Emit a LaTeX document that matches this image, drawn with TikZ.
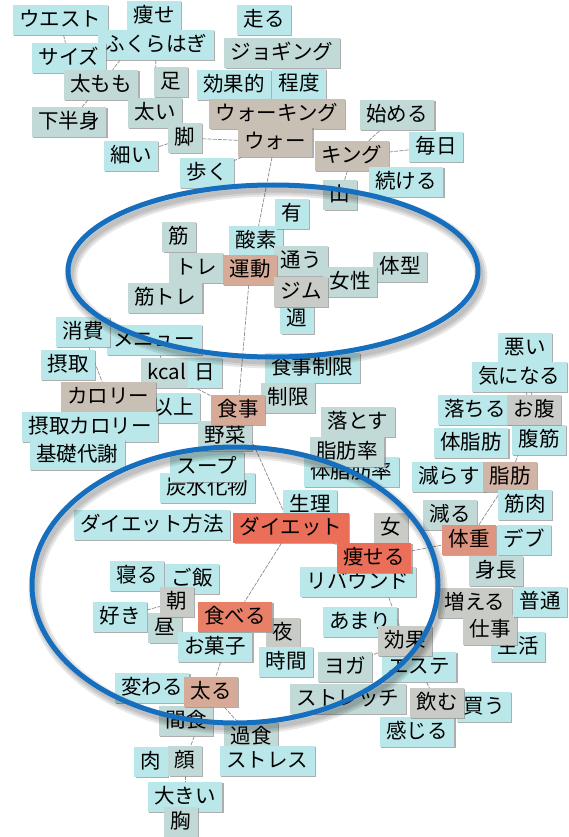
\documentclass[tikz,border=0pt]{standalone}
\usepackage{fontspec}
\setmainfont{Noto Sans CJK JP}
\usetikzlibrary{shadows}
\usetikzlibrary{calc}
\pgfdeclarelayer{fondo}
\pgfsetlayers{fondo,main}
\definecolor{celeste}{RGB}{186,231,233}
\definecolor{grisverde}{RGB}{193,218,215}
\definecolor{gris}{RGB}{201,204,198}
\definecolor{topo}{RGB}{201,192,181}
\definecolor{salmon}{RGB}{215,170,152}
\definecolor{salmonclaro}{RGB}{208,180,166}
\definecolor{naranja}{RGB}{222,148,126}
\definecolor{naranjafuerte}{RGB}{232,128,104}
\definecolor{rojo}{RGB}{234,110,88}
\definecolor{azul}{RGB}{21,110,190}

\begin{document}
\begin{tikzpicture}[x=1pt,y=-1pt,
  pal/.style={fill=celeste, inner xsep=6.5pt, inner ysep=2pt, minimum height=30pt,
    text height=16pt, text depth=3.5pt, font=\fontsize{20.5}{20.5}\selectfont,
    drop shadow={shadow xshift=1.3pt, shadow yshift=-1.3pt, fill=black!45, opacity=.7}},
  gv/.style={pal, fill=grisverde},
  gr/.style={pal, fill=gris},
  tp/.style={pal, fill=topo},
  sa/.style={pal, fill=salmon},
  enlace/.style={black!45, line width=.7pt, dash pattern=on 4pt off 1.2pt},
  circulo/.style={azul, line width=5pt},
  sombra/.style={black, line width=#1, opacity=.09}]
\useasboundingbox (0,0) rectangle (569,837);
% piernas y caminar
\node[pal] (wst) at (60,20) {ウエスト};
\node[pal] (yase) at (154,16) {痩せ};
\node[pal] (fuku) at (156,45) {ふくらはぎ};
\node[pal] (size) at (69,58) {サイズ};
\node[gv] (ashi) at (171,82) {足};
\node[gv] (mom) at (101,85) {太もも};
\node[gv] (futoi) at (155,113) {太い};
\node[gv] (kahan) at (69,122) {下半身};
\node[gv] (kyaku) at (185,138) {脚};
\node[pal] (hosoi) at (131,156) {細い};
\node[pal] (aruku) at (207,173) {歩く};
\node[pal] (hashiru) at (264,20) {走る};
\node[gv] (jog) at (282,53) {ジョギング};
\node[pal] (kokateki) at (234,85) {効果的};
\node[pal] (teido) at (299,84) {程度};
\node[tp] (walk) at (277,114) {ウォーキング};
\node[tp] (wo) at (275,142) {ウォー};
\node[tp] (king) at (352,156) {キング};
\node[gv] (hajime) at (397,115) {始める};
\node[pal] (mai) at (436,147) {毎日};
\node[pal] (tsuzuke) at (406,182) {続ける};
\node[gv] (yama) at (340,195) {山};
% ejercicio
\node[gv] (kin) at (179,237) {筋};
\node[pal] (sanso) at (256,241) {酸素};
\node[pal] (yu) at (292,214) {有};
\node[gv] (tore) at (196,268) {トレ};
\node[gv] (kayou) at (301,261) {通う};
\node[sa] (undo) at (250,270) {運動};
\node[gv] (taikei) at (400,267) {体型};
\node[gv] (josei) at (350,282) {女性};
\node[pal] (shu) at (297,319) {週};
\node[gr] (jim) at (301,292) {ジム};
\node[gv] (kintore) at (165,298) {筋トレ};
% comida
\node[pal] (menu) at (154,340) {メニュー};
\node[pal] (shohi) at (83,332) {消費};
\node[pal] (sesshu) at (68,365) {摂取};
\node[gv] (kcal) at (167,373) {kcal};
\node[pal] (hi) at (205,373) {日};
\node[pal] (ijo) at (173,408) {以上};
\node[tp] (cal) at (108,397) {カロリー};
\node[pal] (sescal) at (90,427) {摂取カロリー};
\node[pal] (shokuseigen) at (312,368) {食事制限};
\node[gv] (seigen) at (288,398) {制限};
\node[gv] (yasai) at (225,436) {野菜};
\node[sa] (shokuji) at (238,410) {食事};
\node[pal] (kiso) at (77,455) {基礎代謝};
\node[pal] (tansui) at (207,488) {炭水化物};
\node[pal] (soup) at (207,467) {スープ};
\node[gv] (otosu) at (358,422) {落とす};
\node[pal] (taishiboritsu) at (351,472) {体脂肪率};
\node[gv] (shiboritsu) at (347,452) {脂肪率};
\node[pal] (seiri) at (310,505) {生理};
% grasa y peso
\node[pal] (warui) at (525,348) {悪い};
\node[pal] (kini) at (519,377) {気になる};
\node[pal] (ochiru) at (475,410) {落ちる};
\node[pal] (fukkin) at (539,440) {腹筋};
\node[gr] (onaka) at (534,410) {お腹};
\node[pal] (taishibo) at (471,443) {体脂肪};
\node[pal] (herasu) at (449,477) {減らす};
\node[sa, fill=salmonclaro] (shibo) at (510,477) {脂肪};
\node[pal] (kinniku) at (525,505) {筋肉};
\node[gv] (heru) at (450,515) {減る};
\node[pal] (hoho) at (152,525) {ダイエット方法};
\node[pal, fill=rojo] (diet) at (291,528) {ダイエット};
\node[gr] (onna) at (391,528) {女};
\node[pal, fill=naranja] (taiju) at (469,540) {体重};
\node[pal] (debu) at (524,540) {デブ};
\node[pal] (rebound) at (358,582) {リバウンド};
\node[pal, fill=rojo] (yaseru) at (374,558) {痩せる};
\node[gv] (shincho) at (496,571) {身長};
\node[pal] (seikatsu) at (518,647) {生活};
\node[gr] (fueru) at (475,603) {増える};
\node[gr] (shigoto) at (490,630) {仕事};
\node[pal] (futsu) at (540,602) {普通};
\node[pal] (amari) at (360,622) {あまり};
\node[pal] (este) at (419,667) {エステ};
\node[gr] (koka) at (405,641) {効果};
\node[gr] (yoru) at (283,633) {夜};
\node[pal] (jikan) at (286,662) {時間};
\node[gv] (yoga) at (345,667) {ヨガ};
\node[gv] (stretch) at (348,699) {ストレッチ};
\node[pal] (kau) at (484,707) {買う};
\node[pal] (kanjiru) at (417,732) {感じる};
\node[gr] (nomu) at (437,703) {飲む};
% comer
\node[pal] (neru) at (137,576) {寝る};
\node[pal] (gohan) at (192,579) {ご飯};
\node[gv] (hiru) at (165,628) {昼};
\node[gr] (asa) at (177,602) {朝};
\node[pal] (suki) at (120,617) {好き};
\node[pal] (okashi) at (215,647) {お菓子};
\node[pal, fill=naranjafuerte] (taberu) at (235,617) {食べる};
\node[pal] (kawaru) at (152,688) {変わる};
\node[gv] (kanshoku) at (186,721) {間食};
\node[sa] (futoru) at (211,692) {太る};
\node[gv] (kashoku) at (251,737) {過食};
\node[pal] (niku) at (151,762) {肉};
\node[gv] (kao) at (185,761) {顔};
\node[pal] (stress) at (267,761) {ストレス};
\node[pal] (ookii) at (185,797) {大きい};
\node[gv] (mune) at (181,822) {胸};

\begin{pgfonlayer}{fondo}
\draw[enlace] (wo) -- (kyaku);
\draw[enlace] (wo) -- (aruku);
\draw[enlace] (wo) -- (undo);
\draw[enlace] (undo) -- (shokuji);
\draw[enlace] (shokuji) -- (diet);
\draw[enlace] (diet) -- (taberu);
\draw[enlace] (diet) -- (yaseru);
\draw[enlace] (yaseru) -- (taiju);
\draw[enlace] (taiju) -- (shibo);
\draw[enlace] (shibo) -- (onaka);
\draw[enlace] (onaka) -- (warui);
\draw[enlace] (onaka) -- (kini);
\draw[enlace] (king) -- (mai);
\draw[enlace] (king) -- (hajime);
\draw[enlace] (king) -- (yama);
\draw[enlace] (kyaku) -- (hosoi);
\draw[enlace] (yase) -- (mom);
\draw[enlace] (fuku) -- (futoi);
\draw[enlace] (mom) -- (kahan);
\draw[enlace] (wst) -- (size);
\draw[enlace] (shohi) -- (cal);
\draw[enlace] (menu) -- (kcal);
\draw[enlace] (kcal) -- (shokuji);
\draw[enlace] (suki) -- (asa);
\draw[enlace] (taberu) -- (futoru);
\draw[enlace] (futoru) -- (kashoku);
\draw[enlace] (futoru) -- (kao);
\draw[enlace] (kao) -- (ookii);
\draw[enlace] (yaseru) -- (koka);
\draw[enlace] (koka) -- (yoga);
\draw[enlace] (este) -- (nomu);
\end{pgfonlayer}

% los dos grupos marcados
\foreach \w in {13,9,5}{
  \draw[sombra=\w pt] (276,276) ellipse [x radius=205, y radius=86];
  \draw[sombra=\w pt] (238,590) ellipse [x radius=203, y radius=138];}
\draw[circulo] (273,271) ellipse [x radius=205, y radius=86];
\draw[circulo] (235,585) ellipse [x radius=203, y radius=138];
\end{tikzpicture}
\end{document}
